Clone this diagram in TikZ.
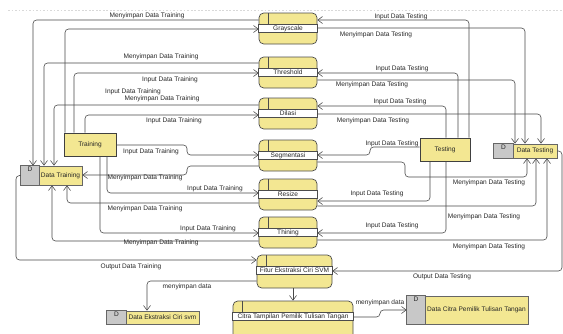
\documentclass[tikz,border=0pt]{standalone}
\usepackage{fontspec}
\setmainfont{Liberation Sans}
\usepackage{tikz}
\usetikzlibrary{arrows.meta, calc}
\definecolor{dfdyellow}{RGB}{243,231,146}
\definecolor{dfdgray}{RGB}{200,200,200}
\definecolor{dfdline}{RGB}{72,72,72}
\tikzset{
	dfdtext/.style={font=\fontsize{5.6}{6.5}\selectfont, text=black!85, inner sep=0pt}
}
\tikzset{
	procbox/.style={draw=black!70, fill=dfdyellow, line width=0.6pt, rounded corners=4pt, inner sep=0pt}
}
\tikzset{
	entbox/.style={draw=black!75, fill=dfdyellow, line width=0.6pt, inner sep=0pt, dfdtext}
}
\tikzset{
	storebox/.style={draw=black!60, fill=dfdyellow, line width=0.6pt, inner sep=0pt}
}
\tikzset{
	flow/.style={draw=dfdline, line width=0.5pt, rounded corners=3pt, -{Straight Barb[length=4pt,width=6pt]}}
}
\newcommand{\dfdproc}[6]{%
	\node[procbox, minimum width=#4*0.03cm, minimum height=#5*0.03cm] (#1) at (#2+#4/2,#3+#5/2) {};
	\draw[black!70, line width=0.5pt, fill=white] (#1.west |- 0,#3+11.5) rectangle (#1.east |- 0,#3+19.5);
	\draw[black!70, line width=0.5pt] (#2+9,#3) -- (#2+9,#3+11.5);
	\node[dfdtext] (#1-txt) at (#2+#4/2,#3+15.5) {#6};
}
\newcommand{\dfdstore}[7]{%
	\node[storebox, minimum width={(#4-#2)*0.03cm}, minimum height={(#5-#3)*0.03cm}] (#1) at ({(#2+#4)/2},{(#3+#5)/2}) {};
	\draw[black!60, line width=0.6pt, fill=dfdgray] (#1.north west) rectangle (#6,#5);
	\node[dfdtext, anchor=north] (#1-d) at ({(#2+#6)/2},#3+1) {D};
	\node[dfdtext] (#1-txt) at ({(#6+#4)/2},{(#3+#5)/2}) {#7};
}

\begin{document}
\begin{tikzpicture}[x=0.03cm, y=-0.03cm]
	\useasboundingbox (0,0) rectangle (563,333);
	\clip (0,0) rectangle (563,333);
	\draw[black!15, dash pattern=on 1.5pt off 1.5pt] (8,10) -- (563,10);

	\foreach \n/\y/\t in {grayscale/13/Grayscale, threshold/57/Threshold, dilasi/98/Dilasi,
		segmentasi/140/Segmentasi, resize/179/Resize, thining/217/Thining}
		{\dfdproc{\n}{259}{\y}{58}{31}{\t}}
	\dfdproc{fitur}{257}{255}{75}{33}{Fitur Ekstraksi Ciri SVM}
	\dfdproc{citra}{233}{301}{120}{42}{Citra Tampilan Pemilik Tulisan Tangan}

	\node[entbox, minimum width=52*0.03cm, minimum height=23*0.03cm] (training) at (90,144.5) {Training};
	\node[entbox, minimum width=50*0.03cm, minimum height=23*0.03cm] (testing) at (445,149.5) {Testing};

	\dfdstore{dtrain}{21}{166}{82}{185}{39}{Data Training}
	\dfdstore{dtest}{494}{144}{557}{158}{513}{Data Testing}
	\dfdstore{dekstraksi}{107}{311}{199}{324}{126}{Data Ekstraksi Ciri svm}
	\dfdstore{dcitra}{407}{296}{528}{324}{425}{Data Citra Pemilik Tulisan Tangan}

	\foreach \x/\y/\p in {65/29/grayscale, 74/73/threshold, 85/115/dilasi}
		\draw[flow] (training.north -| \x,0) |- (\p.west |- 0,\y);
	\foreach \p/\y/\x in {grayscale/20/33, threshold/63/44, dilasi/105/54}
		\draw[flow] (\p.west |- 0,\y) -| (dtrain.north -| \x,0);
	\foreach \x/\y/\p in {107/193/resize, 100/233/thining}
		\draw[flow] (training.south -| \x,0) |- (\p.west |- 0,\y);
	\foreach \p/\y/\x in {resize/203/67, thining/241/52}
		\draw[flow] (\p.west |- 0,\y) -| (dtrain.south -| \x,0);
	\draw[flow] (training.east |- 0,145) -- (187,145) -- (187,155) -- (segmentasi.west |- 0,155);
	\draw[flow] (segmentasi.west |- 0,166) -- (187,166) -- (187,175) -- (dtrain.east |- 0,175);

	\foreach \x/\y/\p in {469/20/grayscale, 458/73/threshold, 446/106/dilasi}
		\draw[flow] (testing.north -| \x,0) |- (\p.east |- 0,\y);
	\foreach \p/\y/\x in {grayscale/28/525, threshold/80/515, dilasi/114/541}
		\draw[flow] (\p.east |- 0,\y) -| (dtest.north -| \x,0);
	\foreach \x/\y/\p in {430/201/resize, 446/233/thining}
		\draw[flow] (testing.south -| \x,0) |- (\p.east |- 0,\y);
	\foreach \p/\y/\x in {resize/206/536, thining/240/547}
		\draw[flow] (\p.east |- 0,\y) -| (dtest.south -| \x,0);
	\draw[flow] (testing.west |- 0,147) -- (370,147) -- (370,155) -- (segmentasi.east |- 0,155);
	\draw[flow] (segmentasi.east |- 0,162) -- (405,162) -- (405,177) -| (dtest.south -| 527,0);

	\draw[flow] (dtrain.west) -| (16,260) -- (fitur.west |- 0,260);
	\draw[flow] (dtest.east) -| (562,271) -- (fitur.east |- 0,271);
	\draw[flow] (fitur.west |- 0,281) -| (dekstraksi.north -| 147,0);
	\draw[flow] (fitur.south -| 293,0) -- (citra.north -| 293,0);
	\draw[flow] (citra.east |- 0,317) -- (380,317) -- (380,310) -- (dcitra.west |- 0,310);

	\foreach \n/\x/\y/\t in {
		a1/147/16/Menyimpan Data Training, a2/161/57/Menyimpan Data Training,
		a3/170/80/Input Data Training, a4/133/92/Input Data Training,
		a5/162/99/Menyimpan Data Training, a6/174/121/Input Data Training,
		a7/151/152/Input Data Training, a8/145/178/Menyimpan Data Training,
		a9/215/189/Input Data Training, a10/145/209/Menyimpan Data Training,
		a11/208/229/Input Data Training, a12/161/243/Menyimpan Data Training,
		a13/131/267/Output Data Training,
		b1/401/17/Input Data Testing, b2/376/35/Menyimpan Data Testing,
		b3/402/69/Input Data Testing, b4/372/85/Menyimpan Data Testing,
		b5/400/102/Input Data Testing, b6/373/121/Menyimpan Data Testing,
		b7/392/144/Input Data Testing, b8/489/183/Menyimpan Data Testing,
		b9/377/194/Input Data Testing, b10/484/217/Menyimpan Data Testing,
		b11/392/226/Input Data Testing, b12/489/247/Menyimpan Data Testing,
		b13/442/277/Output Data Testing,
		c1/187/287/menyimpan data, c2/380/303/menyimpan data}
		\node[dfdtext] (lab\n) at (\x,\y) {\t};
\end{tikzpicture}
\end{document}
